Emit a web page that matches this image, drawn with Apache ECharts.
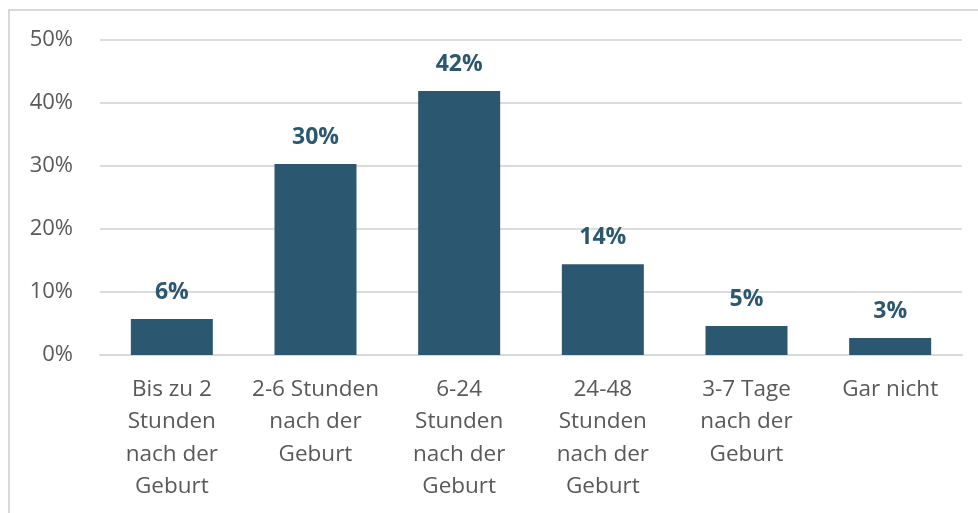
<!DOCTYPE html>
<html><head><meta charset="utf-8">
<script src="https://cdn.jsdelivr.net/npm/echarts@6/dist/echarts.min.js"></script>
<style>html,body{margin:0;padding:0;background:#fff}#c{width:978px;height:513px}</style>
</head><body><div id="c"></div>
<script>
const categories = ["Bis zu 2\nStunden\nnach der\nGeburt","2-6 Stunden\nnach der\nGeburt","6-24\nStunden\nnach der\nGeburt","24-48\nStunden\nnach der\nGeburt","3-7 Tage\nnach der\nGeburt","Gar nicht"];
const values = [5.7, 30.3, 41.9, 14.4, 4.6, 2.7];
const valueLabels = ["6%","30%","42%","14%","5%","3%"];
const yTicks = [0,10,20,30,40,50];
const chart = echarts.init(document.getElementById('c'));
const font = "'Open Sans', 'Noto Sans', sans-serif";
chart.setOption({
  animation:false,
  graphic:[{type:'rect',shape:{x:9,y:10,width:1100,height:700},style:{fill:'none',stroke:'#d9d9d9',lineWidth:2},silent:true}],
  grid:{left:100,right:16,top:40,bottom:158,containLabel:false},
  xAxis:{type:'category',data:categories,
    axisLine:{lineStyle:{color:'#d9d9d9',width:2}},axisTick:{show:false},
    axisLabel:{interval:0,color:'#595959',fontFamily:font,fontSize:22.5,lineHeight:32.5,margin:18,verticalAlign:'top'}},
  yAxis:{type:'value',min:0,max:50,interval:10,
    axisLine:{show:false},axisTick:{show:false},
    splitLine:{lineStyle:{color:'#dcdcdc',width:2}},
    axisLabel:{formatter:v=>yTicks.includes(v)?v+'%':'',color:'#595959',fontFamily:font,fontSize:22,margin:27}},
  series:[{type:'bar',data:values,barWidth:82,itemStyle:{color:'#2b5870'},
    label:{show:true,position:'top',distance:15,formatter:p=>valueLabels[p.dataIndex],color:'#2b5870',fontFamily:font,fontWeight:'bold',fontSize:23}}]
});
</script></body></html>
